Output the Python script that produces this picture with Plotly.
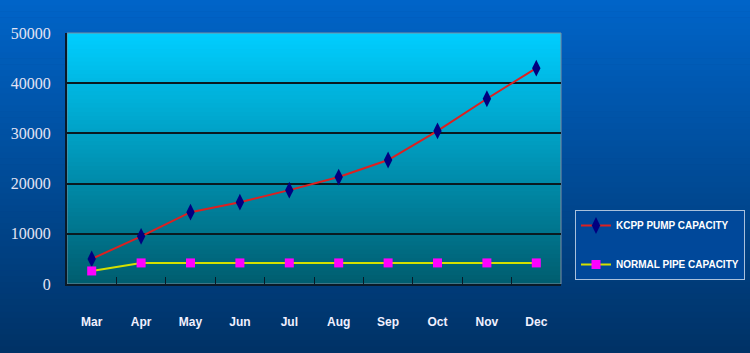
import plotly.graph_objects as go

months = ["Mar", "Apr", "May", "Jun", "Jul", "Aug", "Sep", "Oct", "Nov", "Dec"]
kcpp_pump = [5000, 9500, 14300, 16300, 18700, 21300, 24700, 30500, 36900, 43000]
normal_pipe = [2600, 4200, 4200, 4200, 4200, 4200, 4200, 4200, 4200, 4200]

W, H = 750, 353
ML, MR, MT, MB = 67, 189, 33, 69
PW, PH = W - ML - MR, H - MT - MB


def lerp(c1, c2, t):
    return "rgb(%d,%d,%d)" % tuple(round(a + (b - a) * t) for a, b in zip(c1, c2))


shapes = []
# page gradient
N = 60
top_c, bot_c = (0, 100, 200), (0, 50, 102)
y_top = (PH + MT) / PH
y_bot = -MB / PH
x0p, x1p = -ML / PW, (W - ML) / PW
for i in range(N):
    t = i / (N - 1)
    ya = y_top - (y_top - y_bot) * i / N
    yb = y_top - (y_top - y_bot) * (i + 1) / N
    shapes.append(dict(type="rect", xref="paper", yref="paper", x0=x0p, x1=x1p,
                       y0=yb, y1=ya + 0.002, fillcolor=lerp(top_c, bot_c, t),
                       line=dict(width=0), layer="below"))
# plot area gradient
ptop, pbot = (0, 206, 255), (0, 94, 112)
for i in range(N):
    t = i / (N - 1)
    ya = 1 - i / N
    yb = 1 - (i + 1) / N
    shapes.append(dict(type="rect", xref="paper", yref="paper", x0=0, x1=1,
                       y0=yb, y1=min(1, ya + 0.003), fillcolor=lerp(ptop, pbot, t),
                       line=dict(width=0), layer="below"))
# plot border (top/right grey)
shapes.append(dict(type="rect", xref="paper", yref="paper", x0=0, x1=1, y0=0, y1=1,
                   line=dict(color="#7f8f9f", width=1), layer="below"))

fig = go.Figure()
fig.add_trace(go.Scatter(
    x=months, y=kcpp_pump, name="KCPP PUMP CAPACITY", mode="lines+markers",
    line=dict(color="#dd2020", width=2),
    marker=dict(symbol="diamond-tall", color="#000080", size=12),
    legendgroup="a",
))
fig.add_trace(go.Scatter(
    x=months, y=normal_pipe, name="NORMAL PIPE CAPACITY", mode="lines+markers",
    line=dict(color="#d4e000", width=2),
    marker=dict(symbol="square", color="#ff00ff", size=9),
    legendgroup="b",
))

fig.update_layout(
    width=W, height=H,
    margin=dict(l=ML, r=MR, t=MT, b=MB, pad=0, autoexpand=False),
    paper_bgcolor="#00448c",
    plot_bgcolor="rgba(0,0,0,0)",
    shapes=shapes,
    showlegend=True,
    legend=dict(
        x=(575 - ML) / PW, y=(284 - 210) / PH, xanchor="left", yanchor="top",
        bgcolor="#00489a", bordercolor="#a8c0dc", borderwidth=1,
        font=dict(family="Liberation Sans", size=10, color="white", weight="bold"),
        tracegroupgap=20, itemwidth=30,
    ),
    xaxis=dict(
        type="category", showgrid=False, showline=True, linecolor="#0a1a28", linewidth=2,
        ticks="inside", ticklen=7, tickcolor="#0a1a28", tickwidth=1, tickson="boundaries",
        tickfont=dict(family="Liberation Sans", size=12, color="#f0f0ff", weight="bold"),
        ticklabelstandoff=26, range=[-0.5, 9.5], zeroline=False,
    ),
    yaxis=dict(
        range=[0, 50000], dtick=10000, showgrid=True, gridcolor="#0a1a20", gridwidth=2,
        showline=True, linecolor="#0a1a28", linewidth=2, ticks="", zeroline=False,
        tickformat="d",
        tickfont=dict(family="Liberation Serif", size=16, color="#e4e4f4"),
        ticklabelstandoff=11,
    ),
)

fig.write_html("out.html")
